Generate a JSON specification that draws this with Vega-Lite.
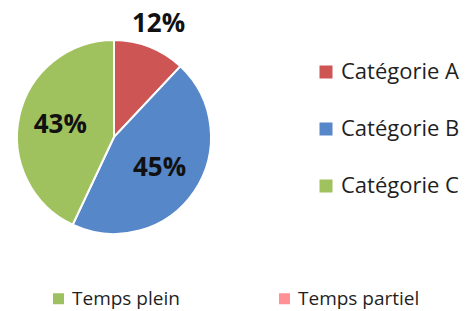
{
  "$schema": "https://vega.github.io/schema/vega-lite/v6.json",
  "width": 194,
  "height": 194,
  "autosize": "none",
  "padding": {"left": 17, "top": 40, "right": 261, "bottom": 77},
  "background": "white",
  "config": {"view": {"stroke": null}, "font": "Open Sans"},
  "datasets": {
    "pie": [
      {"cat": "Catégorie A", "value": 12, "label": "12%"},
      {"cat": "Catégorie B", "value": 45, "label": "45%"},
      {"cat": "Catégorie C", "value": 43, "label": "43%"}
    ],
    "temps": [
      {"temps": "Temps plein"},
      {"temps": "Temps partiel"}
    ]
  },
  "layer": [
    {
      "data": {"name": "pie"},
      "mark": {"type": "arc", "stroke": "white", "strokeWidth": 2},
      "encoding": {
        "theta": {"field": "value", "type": "quantitative", "stack": true},
        "order": {"field": "cat", "type": "nominal"},
        "color": {
          "field": "cat", "type": "nominal",
          "scale": {"domain": ["Catégorie A", "Catégorie B", "Catégorie C"], "range": ["#CD5553", "#5687C8", "#A0C25E"]},
          "legend": {
            "title": null, "orient": "none", "legendX": 298, "legendY": 21,
            "symbolType": "square", "symbolSize": 169, "symbolStrokeWidth": 0,
            "labelFontSize": 22, "labelFont": "Open Sans", "labelColor": "#1f1f1f",
            "rowPadding": 35, "labelOffset": 4, "padding": 0
          }
        }
      }
    },
    {
      "data": {"name": "pie"},
      "mark": {"type": "text", "fontSize": 26, "fontWeight": "bold", "font": "Open Sans", "color": "#111111", "radius": 121},
      "encoding": {
        "theta": {"field": "value", "type": "quantitative", "stack": true},
        "order": {"field": "cat", "type": "nominal"},
        "text": {"condition": {"test": "datum.cat === 'Catégorie A'", "field": "label"}, "value": ""}
      }
    },
    {
      "data": {"name": "pie"},
      "mark": {"type": "text", "fontSize": 26, "fontWeight": "bold", "font": "Open Sans", "color": "#111111", "radius": 55},
      "encoding": {
        "theta": {"field": "value", "type": "quantitative", "stack": true},
        "order": {"field": "cat", "type": "nominal"},
        "text": {"condition": {"test": "datum.cat !== 'Catégorie A'", "field": "label"}, "value": ""}
      }
    },
    {
      "data": {"name": "temps"},
      "mark": {"type": "square", "opacity": 0, "size": 0},
      "encoding": {
        "fill": {
          "field": "temps", "type": "nominal",
          "scale": {"domain": ["Temps plein", "Temps partiel"], "range": ["#9DC060", "#FF9194"]},
          "legend": {
            "title": null, "orient": "none", "direction": "horizontal", "legendX": 32, "legendY": 249,
            "symbolType": "square", "symbolSize": 121, "symbolOpacity": 1, "symbolStrokeWidth": 0,
            "labelFontSize": 19, "labelFont": "Open Sans", "labelColor": "#1f1f1f",
            "columnPadding": 95, "labelOffset": 4, "padding": 0
          }
        }
      }
    }
  ],
  "resolve": {"scale": {"color": "independent", "theta": "shared"}}
}
